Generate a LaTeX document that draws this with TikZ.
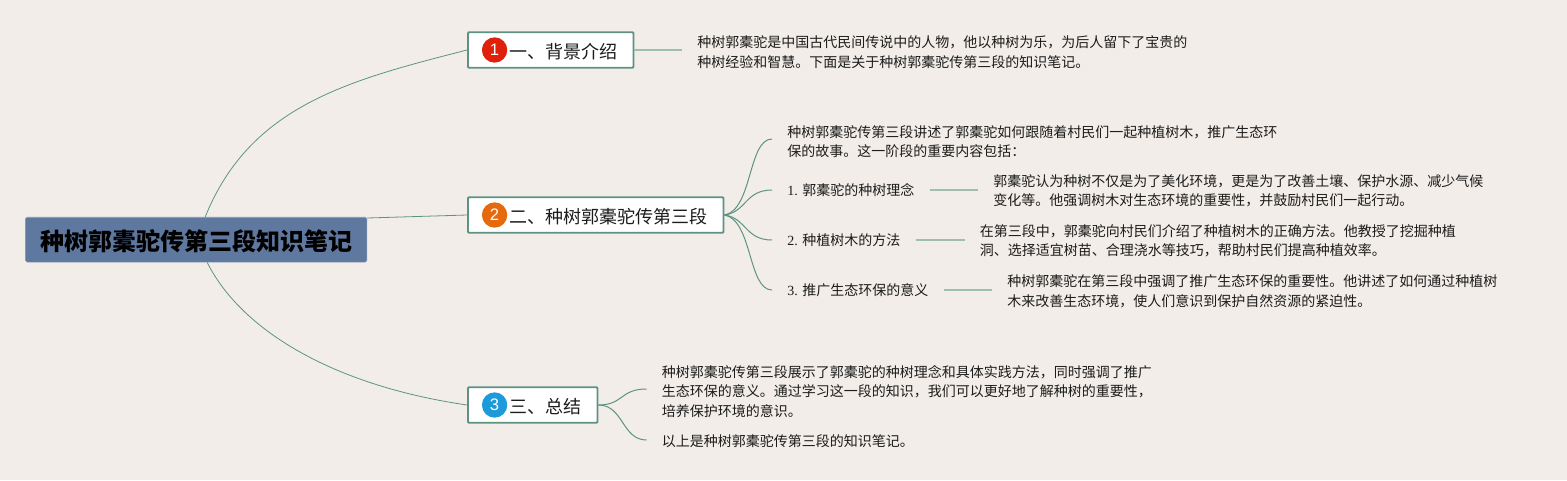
\documentclass[tikz,border=0pt]{standalone}
\usepackage{fontspec}
\setmainfont{Noto Sans CJK SC}
\newfontfamily\serifnum{Liberation Serif}
\newfontfamily\sansnum{Liberation Sans}
\definecolor{bgc}{HTML}{F2EDE8}
\definecolor{linec}{HTML}{5E9383}
\definecolor{linelt}{HTML}{9CBFB1}
\definecolor{rootc}{HTML}{5F789F}
\definecolor{txt}{HTML}{1C1C1C}
\definecolor{badgea}{HTML}{DF210B}
\definecolor{badgeb}{HTML}{E56A0E}
\definecolor{badgec}{HTML}{1D9AD9}
\tikzset{
  rootbox/.style={draw=rootc!75!white,line width=0.5pt,fill=rootc,rounded corners=1.2pt,inner sep=0pt,minimum width=256pt,minimum height=33.6pt,text=black,text height=16.2pt,text depth=0pt,font=\fontsize{18}{22}\selectfont\bfseries},
  topicbox/.style={draw=linec,line width=1.4pt,fill=white,rounded corners=0.8pt,inner ysep=0pt,inner xsep=11.7pt,minimum height=26.6pt,anchor=west,text=txt,text height=12.4pt,text depth=0pt,font=\fontsize{13.5}{16}\selectfont},
  badge/.style={circle,inner sep=0pt,minimum size=19pt,text=white,font=\sansnum\fontsize{12.5}{14}\selectfont},
  body/.style={anchor=west,inner xsep=11.25pt,inner ysep=0pt,align=left,text=txt,font=\fontsize{10.5}{14.6}\selectfont},
  curve/.style={draw=linec,line width=0.6pt},
  branch/.style={draw=linec,line width=0.75pt},
  stub/.style={draw=linelt,line width=1.2pt}
}
\begin{document}
\begin{tikzpicture}[x=0.75pt,y=-0.75pt]
\path[use as bounding box,fill=bgc] (0,0) rectangle (1567,480);
% nodes
\node[rootbox] (root) at (196.2,239.7) {种树郭橐驼传第三段知识笔记};
\node[topicbox] (t1) at (467,50) {\hspace{19.8pt}一、背景介绍};
\node[topicbox] (t2) at (467,215) {\hspace{19.8pt}二、种树郭橐驼传第三段};
\node[topicbox] (t3) at (467,405) {\hspace{19.8pt}三、总结};
\node[badge,fill=badgea] (b1) at (494.6,50) {1};
\node[badge,fill=badgeb] (b2) at (494.6,215) {2};
\node[badge,fill=badgec] (b3) at (494.6,405) {3};
\node[body] (a1) at (682,52) {种树郭橐驼是中国古代民间传说中的人物，他以种树为乐，为后人留下了宝贵的\\种树经验和智慧。下面是关于种树郭橐驼传第三段的知识笔记。};
\node[body] (c0) at (772,141.5) {种树郭橐驼传第三段讲述了郭橐驼如何跟随着村民们一起种植树木，推广生态环\\保的故事。这一阶段的重要内容包括：};
\node[body] (c1) at (772,190.5) {{\serifnum 1. }郭橐驼的种树理念};
\node[body] (c2) at (772,240.5) {{\serifnum 2. }种植树木的方法};
\node[body] (c3) at (772,290.5) {{\serifnum 3. }推广生态环保的意义};
\node[body] (d1) at (978,191) {郭橐驼认为种树不仅是为了美化环境，更是为了改善土壤、保护水源、减少气候\\变化等。他强调树木对生态环境的重要性，并鼓励村民们一起行动。};
\node[body] (d2) at (964.5,241) {在第三段中，郭橐驼向村民们介绍了种植树木的正确方法。他教授了挖掘种植\\洞、选择适宜树苗、合理浇水等技巧，帮助村民们提高种植效率。};
\node[body] (d3) at (992,291.5) {种树郭橐驼在第三段中强调了推广生态环保的重要性。他讲述了如何通过种植树\\木来改善生态环境，使人们意识到保护自然资源的紧迫性。};
\node[body] (e1) at (646.5,391.5) {种树郭橐驼传第三段展示了郭橐驼的种树理念和具体实践方法，同时强调了推广\\生态环保的意义。通过学习这一段的知识，我们可以更好地了解种树的重要性，\\培养保护环境的意识。};
\node[body] (e2) at (646.5,441.5) {以上是种树郭橐驼传第三段的知识笔记。};
% connectors
\draw[curve] (root.north west)++(180,0) coordinate (rt) .. controls +(45,-112) and (350,80) .. (t1.west);
\draw[curve] (root.south west)++(182,0) coordinate (rb) .. controls +(33,66) and (330,385) .. (t3.west);
\draw[curve] (root.east |- 218,218) -- (t2.west);
\draw[stub] (t1.east) -- (a1.west |- t1.east);
\draw[branch] (t2.east) .. controls +(28,-5) and (748,139) .. (c0.west |- 0,139);
\draw[branch] (t2.east) .. controls +(22,-3) and (745,190) .. (c1.west |- 0,190);
\draw[branch] (t2.east) .. controls +(22,3) and (745,240) .. (c2.west |- 0,240);
\draw[branch] (t2.east) .. controls +(28,5) and (748,290) .. (c3.west |- 0,290);
\draw[stub] (c1.east |- 0,190) -- (d1.west |- 0,190);
\draw[stub] (c2.east |- 0,240) -- (d2.west |- 0,240);
\draw[stub] (c3.east |- 0,290) -- (d3.west |- 0,290);
\draw[branch] (t3.east) .. controls +(25,0) and (620,389) .. (e1.west |- 0,389);
\draw[branch] (t3.east) .. controls +(25,0) and (622,440) .. (e2.west |- 0,440);
\end{tikzpicture}
\end{document}
